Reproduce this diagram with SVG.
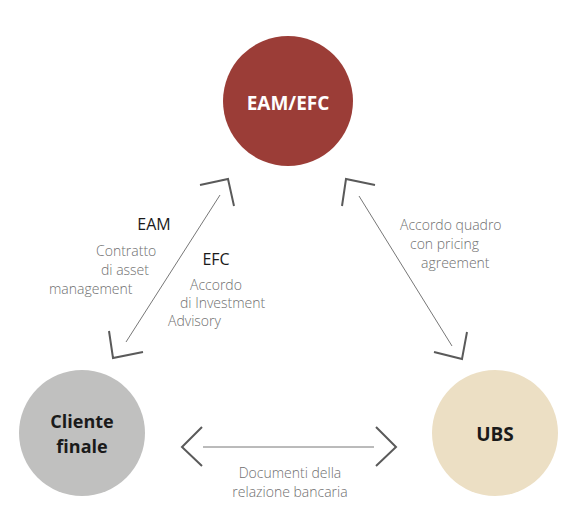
<svg xmlns="http://www.w3.org/2000/svg" width="580" height="526" viewBox="0 0 580 526">
<style>
.lbl{font-family:"Open Sans","Liberation Sans",sans-serif;font-size:14px;font-weight:300;fill:#6f6f6f}
.hd{font-family:"Open Sans","Liberation Sans",sans-serif;font-size:16px;fill:#1a1a1a}
.nt{font-family:"Open Sans","Liberation Sans",sans-serif;font-size:19px;font-weight:bold;text-anchor:middle}
.nt2{font-family:"Open Sans","Liberation Sans",sans-serif;font-size:18px;font-weight:bold;text-anchor:middle}
.ln{stroke:#777;stroke-width:1;fill:none}
.hd2{stroke:#5a5a5a;stroke-width:2;fill:none}
</style>
<rect width="580" height="526" fill="#fff"/>
<g id="connectors">
<line class="ln" x1="126" y1="342" x2="220" y2="195"/>
<polyline class="hd2" points="200,185 228,179 234,206"/>
<polyline class="hd2" points="109,331 113,358 143,352"/>
<line class="ln" x1="359" y1="196" x2="452" y2="346"/>
<polyline class="hd2" points="375,185 346,179 342,206"/>
<polyline class="hd2" points="434,352 462,359 467,332"/>
<line class="ln" x1="203" y1="447" x2="374" y2="447"/>
<polyline class="hd2" points="202,427 182,447 202,466"/>
<polyline class="hd2" points="376,427 396,447 376,466"/>
</g>
<g id="eamefc">
<circle cx="288" cy="101" r="65" fill="#9b3d37"/>
<text class="nt" x="288" y="110" fill="#fff">EAM/EFC</text>
</g>
<g id="cliente">
<circle cx="82" cy="433" r="63" fill="#c0c0bf"/>
<text class="nt2" x="82" y="428" fill="#1a1a1a">Cliente</text>
<text class="nt2" x="82" y="453" fill="#1a1a1a">finale</text>
</g>
<g id="ubs">
<circle cx="495" cy="433" r="63" fill="#ecdfc4"/>
<text class="nt" x="495" y="441" fill="#1a1a1a">UBS</text>
</g>
<g id="labels">
<text class="hd" x="154" y="230" text-anchor="middle">EAM</text>
<text class="lbl" x="96" y="256">Contratto</text>
<text class="lbl" x="101" y="275">di asset</text>
<text class="lbl" x="49" y="294">management</text>
<text class="hd" x="216" y="265" text-anchor="middle">EFC</text>
<text class="lbl" x="190" y="290">Accordo</text>
<text class="lbl" x="180" y="308">di Investment</text>
<text class="lbl" x="168" y="326">Advisory</text>
<text class="lbl" x="400" y="230">Accordo quadro</text>
<text class="lbl" x="410" y="249">con pricing</text>
<text class="lbl" x="421" y="268">agreement</text>
<text class="lbl" x="290" y="478" text-anchor="middle">Documenti della</text>
<text class="lbl" x="290" y="497" text-anchor="middle">relazione bancaria</text>
</g>
</svg>
